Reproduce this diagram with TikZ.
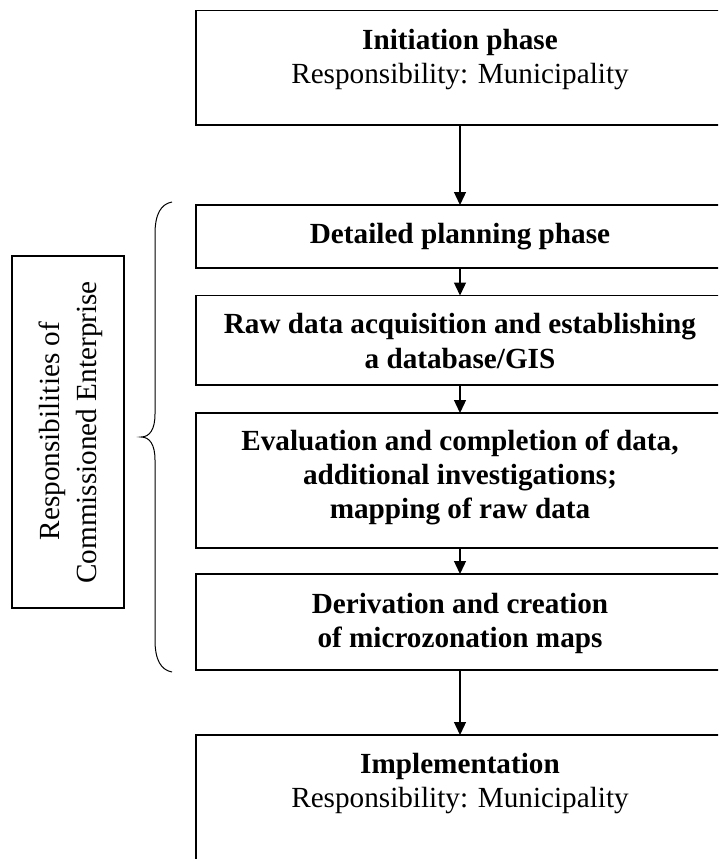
\documentclass[tikz,border=0pt]{standalone}
\usepackage{fontspec}
\setmainfont{Liberation Serif}
\usetikzlibrary{arrows.meta}
\tikzset{
  box/.style={draw, line width=1.6pt, rectangle, anchor=north west, outer sep=0pt, inner sep=0pt, minimum width=528pt},
  lbl/.style={anchor=base, inner sep=0pt, font=\fontsize{29.2}{35}\selectfont},
  blbl/.style={lbl, font=\fontsize{29.2}{35}\selectfont\bfseries},
  arr/.style={line width=1.3pt, -{Triangle[width=12pt,length=13pt]}},
  sidebox/.style={draw, line width=1.1pt, rectangle, anchor=north west, outer sep=0pt, inner sep=0pt, minimum width=112pt, minimum height=352pt},
  sidelbl/.style={lbl, rotate=90}
}
\begin{document}
\begin{tikzpicture}[x=1pt, y=-1pt]
\useasboundingbox (0,0) rectangle (718,859);
\clip (0,0) rectangle (718,859);
\fill[white] (0,0) rectangle (718,859);
% boxes
\node[box, minimum height=114.3pt] (b1) at (196,10.7) {};
\node[box, minimum height=63pt]    (b2) at (196,205) {};
\node[box, minimum height=89.5pt]  (b3) at (196,295.5) {};
\node[box, minimum height=135pt]   (b4) at (196,413) {};
\node[box, minimum height=96pt]    (b5) at (196,574) {};
\node[box, minimum height=145pt]   (b6) at (196,735) {};
% texts
\node[blbl] (t1a) at (460,49.3) {Initiation phase};
\node[lbl]  (t1b) at (460,83.3) {Responsibility: Municipality};
\node[blbl] (t2a) at (460,243.5) {Detailed planning phase};
\node[blbl] (t3a) at (460,333) {Raw data acquisition and establishing};
\node[blbl] (t3b) at (460,368) {a database/GIS};
\node[blbl] (t4a) at (460,450) {Evaluation and completion of data,};
\node[blbl] (t4b) at (460,484) {additional investigations;};
\node[blbl] (t4c) at (460,518) {mapping of raw data};
\node[blbl] (t5a) at (460,613) {Derivation and creation};
\node[blbl] (t5b) at (460,647) {of microzonation maps};
\node[blbl] (t6a) at (460,773) {Implementation};
\node[lbl]  (t6b) at (460,807) {Responsibility: Municipality};
% connectors
\draw[arr] (b1.south) -- (b2.north);
\draw[arr] (b2.south) -- (b3.north);
\draw[arr] (b3.south) -- (b4.north);
\draw[arr] (b4.south) -- (b5.north);
\draw[arr] (b5.south) -- (b6.north);
% brace
\draw[line width=1pt] (172,202) .. controls (161,204) and (155,214) .. (155,234)
  -- (155,414) .. controls (155,429) and (150,437) .. (141,437)
  .. controls (150,437) and (155,445) .. (155,460)
  -- (155,640) .. controls (155,660) and (161,670) .. (172,672);
% side box
\node[sidebox] (side) at (12,256) {};
\node[sidelbl] (s1) at (59,431) {Responsibilities of};
\node[sidelbl] (s2) at (96,432.5) {Commissioned Enterprise};
\end{tikzpicture}
\end{document}
